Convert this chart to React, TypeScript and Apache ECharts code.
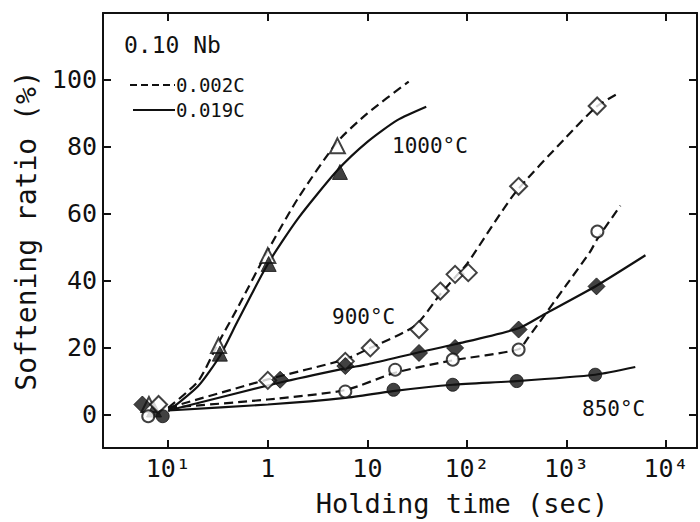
import React, { useEffect, useRef } from "react";
import * as echarts from "echarts";

// ---- tick labels ----
const xTickExponents = [-1, 0, 1, 2, 3, 4];
const xTickLabels = ["10¹", "1", "10", "10²", "10³", "10⁴"];
const yTickValues = [0, 20, 40, 60, 80, 100];

// ---- measured points [holding time (s), softening ratio (%)] ----
// 1000°C
const tri0002: [number, number][] = [[0.064, 3], [0.32, 20.6], [1.0, 47.5], [5.0, 80.3]];
const tri0019: [number, number][] = [[0.072, 1.5], [0.33, 18.2], [1.02, 45], [5.3, 72.5]];
// 900°C
const dia0002: [number, number][] = [
  [0.08, 3], [1.0, 10.2], [6.0, 15.9], [10.7, 19.9], [33, 25.4], [54, 36.9],
  [76, 41.9], [103, 42.4], [330, 68.2], [2030, 92.2],
];
const dia0019: [number, number][] = [
  [0.055, 3], [1.33, 10.4], [6, 14.5], [33, 18.4], [76, 19.9], [330, 25.4], [2000, 38.3],
];
// 850°C
const cir0002: [number, number][] = [[0.063, -0.5], [6, 6.9], [19, 13.4], [72, 16.4], [330, 19.4], [2040, 54.7]];
const cir0019: [number, number][] = [[0.088, -0.5], [18.3, 7.4], [72, 8.9], [316, 10], [1940, 11.9]];

// ---- fitted curves ----
const curve1000_0002: [number, number][] = [
  [0.1, 2], [0.2, 10], [0.32, 21.5], [0.5, 32], [1, 49], [2, 64.5], [5, 81.5], [10, 90], [26, 99.5],
];
const curve1000_0019: [number, number][] = [
  [0.1, 1], [0.2, 8.5], [0.33, 17.5], [0.5, 28], [1, 45], [2, 58.5], [5, 73], [10, 81.5], [20, 88], [39, 92],
];
const curve900_0002: [number, number][] = [
  [0.1, 2], [1, 10.5], [6, 16.5], [10, 19.5], [30, 26.5], [54, 36], [76, 41], [100, 45], [300, 66],
  [1000, 83], [2000, 92], [3300, 96],
];
const curve900_0019: [number, number][] = [
  [0.1, 1.2], [1.3, 9.5], [6, 13.8], [10, 15], [33, 18.6], [76, 21], [330, 25.8], [600, 30],
  [2000, 38.5], [6200, 47.6],
];
const curve850_0002: [number, number][] = [
  [0.1, 2], [1, 4.5], [6, 7.3], [19, 12.5], [72, 16.2], [330, 19.5], [408, 22.8], [1000, 38.8],
  [1720, 48.6], [2040, 52.5], [3470, 62.4],
];
const curve850_0019: [number, number][] = [
  [0.1, 1.2], [1, 3], [6, 5], [18, 7], [72, 8.9], [316, 10], [1940, 11.9], [4900, 14.2],
];

const FONT = "DejaVu Sans Mono";
const INK = "#111";
const DASH = [9, 5];

export default function App() {
  const ref = useRef<HTMLDivElement>(null);

  useEffect(() => {
    if (!ref.current) return;
    const chart = echarts.init(ref.current, null, { renderer: "svg" });

    const xMin = Math.pow(10, -1.655);
    const xMax = Math.pow(10, 4.31);

    const lineSeries = (data: [number, number][], dashed: boolean) => ({
      type: "line",
      data,
      showSymbol: false,
      smooth: 0.22,
      silent: true,
      z: 2,
      lineStyle: { color: INK, width: 2.2, type: dashed ? DASH : "solid" },
    });

    const markerSeries = (data: [number, number][], symbol: string, size: number, filled: boolean) => ({
      type: "scatter",
      data,
      symbol,
      symbolSize: size,
      z: 5,
      itemStyle: {
        color: filled ? INK : "#fff",
        borderColor: INK,
        borderWidth: filled ? 1 : 2,
      },
    });

    const tickLabel = (v: number) => {
      const e = Math.round(Math.log10(v));
      const i = xTickExponents.indexOf(e);
      return i >= 0 ? xTickLabels[i] : "";
    };

    const frameLine = { onZero: false, lineStyle: { color: INK, width: 2 } };
    const frameTick = { inside: true, length: 8, lineStyle: { color: INK, width: 2 } };

    chart.setOption({
      animation: false,
      backgroundColor: "#fff",
      grid: { left: 103, right: 3, top: 13, bottom: 71 },
      xAxis: [
        {
          type: "log",
          min: xMin,
          max: xMax,
          position: "bottom",
          name: "Holding time (sec)",
          nameLocation: "middle",
          nameGap: 42,
          nameTextStyle: { fontFamily: FONT, fontSize: 27, color: INK, padding: [0, 0, 0, 124] },
          axisLine: frameLine,
          axisTick: frameTick,
          minorTick: { show: false },
          splitLine: { show: false },
          axisLabel: {
            fontFamily: FONT,
            fontSize: 25,
            color: INK,
            margin: 8,
            formatter: tickLabel,
            showMinLabel: false,
            showMaxLabel: false,
          },
        },
        {
          type: "log",
          min: xMin,
          max: xMax,
          position: "top",
          axisLine: frameLine,
          axisTick: frameTick,
          splitLine: { show: false },
          axisLabel: { show: false },
        },
      ],
      yAxis: [
        {
          type: "value",
          min: -10,
          max: 120,
          splitNumber: 6,
          position: "left",
          name: "Softening ratio (%)",
          nameLocation: "middle",
          nameRotate: 90,
          nameGap: 60,
          nameTextStyle: { fontFamily: FONT, fontSize: 28, color: INK },
          axisLine: frameLine,
          axisTick: frameTick,
          splitLine: { show: false },
          axisLabel: {
            fontFamily: FONT,
            fontSize: 25,
            color: INK,
            margin: 6,
            formatter: (v: number) => (yTickValues.indexOf(Math.round(v)) >= 0 && Math.abs(v - Math.round(v)) < 1e-6 ? String(v) : ""),
          },
        },
        {
          type: "value",
          min: -10,
          max: 120,
          splitNumber: 6,
          position: "right",
          axisLine: frameLine,
          axisTick: frameTick,
          splitLine: { show: false },
          axisLabel: { show: false },
        },
      ],
      series: [
        lineSeries(curve1000_0002, true),
        lineSeries(curve1000_0019, false),
        lineSeries(curve900_0002, true),
        lineSeries(curve900_0019, false),
        lineSeries(curve850_0002, true),
        lineSeries(curve850_0019, false),
        markerSeries(tri0002, "triangle", 15, false),
        markerSeries(tri0019, "triangle", 15, true),
        markerSeries(dia0002, "diamond", 17, false),
        markerSeries(dia0019, "diamond", 17, true),
        markerSeries(cir0002, "circle", 12, false),
        markerSeries(cir0019, "circle", 13, true),
      ],
      graphic: [
        { type: "text", left: 124, top: 33, style: { text: "0.10 Nb", fontFamily: FONT, fontSize: 23, fill: INK } },
        { type: "line", shape: { x1: 130, y1: 85, x2: 175, y2: 85 }, style: { stroke: INK, lineWidth: 2, lineDash: [7, 4] } },
        { type: "line", shape: { x1: 133, y1: 110, x2: 175, y2: 110 }, style: { stroke: INK, lineWidth: 2 } },
        { type: "text", left: 176, top: 75, style: { text: "0.002C", fontFamily: FONT, fontSize: 19, fill: INK } },
        { type: "text", left: 176, top: 100, style: { text: "0.019C", fontFamily: FONT, fontSize: 19, fill: INK } },
        { type: "text", left: 392, top: 135, style: { text: "1000°C", fontFamily: FONT, fontSize: 21, fill: INK } },
        { type: "text", left: 332, top: 306, style: { text: "900°C", fontFamily: FONT, fontSize: 21, fill: INK } },
        { type: "text", left: 582, top: 398, style: { text: "850°C", fontFamily: FONT, fontSize: 21, fill: INK } },
      ],
    });

    return () => chart.dispose();
  }, []);

  return <div ref={ref} style={{ width: 700, height: 522, position: "fixed", left: 0, top: 0 }} />;
}
